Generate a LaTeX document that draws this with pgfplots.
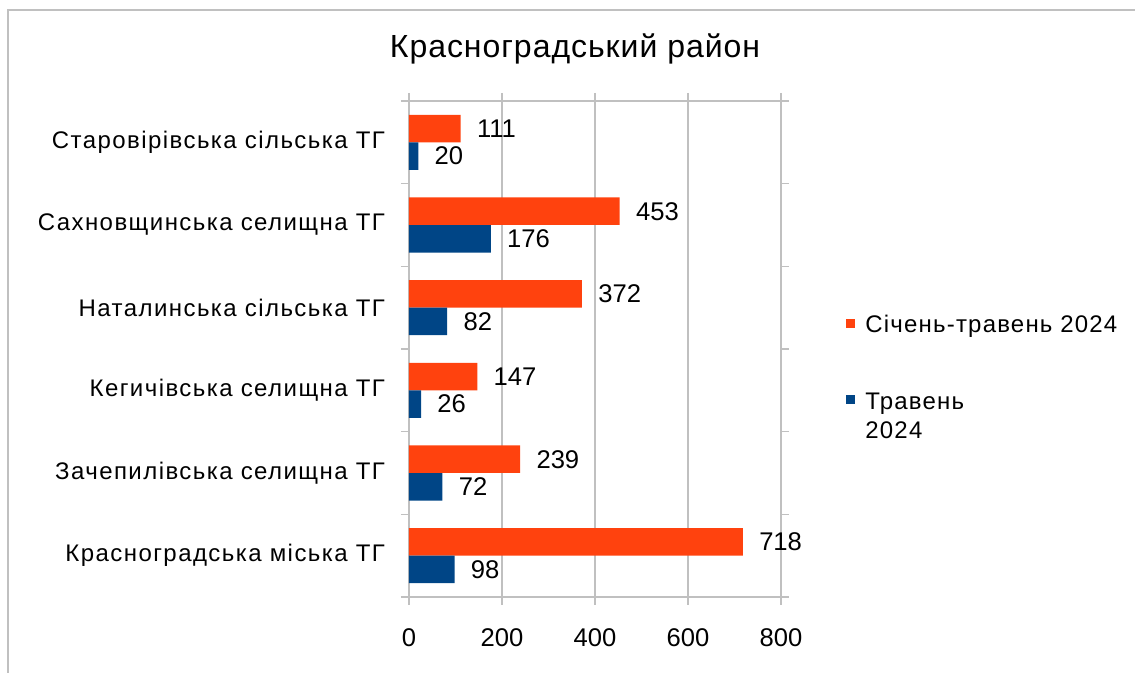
\documentclass[border=0pt]{standalone}
\usepackage{fontspec}
\setmainfont{Liberation Sans}
\newfontfamily\lblfont[LetterSpace=6]{Liberation Sans}
\newfontfamily\legfont[LetterSpace=5]{Liberation Sans}
\newfontfamily\ttlfont[LetterSpace=3]{Liberation Sans}
\usepackage{pgfplots}
\pgfplotsset{compat=1.18}
\definecolor{ora}{HTML}{FF420E}
\definecolor{blu}{HTML}{004586}
\definecolor{gridg}{HTML}{C0C0C0}
\begin{document}
\begin{tikzpicture}
\path[use as bounding box] (-204.5pt,-38pt) rectangle (363pt,298.5pt);
\draw[gridg, line width=0.8pt] (-200.5pt,-38pt) -- (-200.5pt,293.5pt) -- (363pt,293.5pt);
\begin{axis}[
  at={(0,0)}, anchor=south west,
  scale only axis, width=186pt, height=248pt,
  xbar, bar width=0.333,
  xmin=0, xmax=800, ymin=-0.5, ymax=5.5,
  xtick={0,200,...,800},
  ytick={0,...,5},
  yticklabels={Красноградська міська ТГ, Зачепилівська селищна ТГ, Кегичівська селищна ТГ, Наталинська сільська ТГ, Сахновщинська селищна ТГ, Старовірівська сільська ТГ},
  minor ytick={-0.5,0.5,...,5.5},
  tick align=outside, major tick length=4pt, minor tick length=4pt,
  major y tick style={draw=none},
  minor y tick style={gridg, line width=0.75pt},
  major x tick style={gridg, line width=0.75pt},
  xmajorgrids, grid style={gridg, line width=0.75pt},
  axis line style={gridg, line width=0.75pt},
  /pgf/number format/assume math mode=true,
  xticklabel style={font=\fontsize{12.8}{15}\selectfont, anchor=base, yshift=-21pt},
  yticklabel style={font=\lblfont\fontsize{12}{14}\selectfont, anchor=east, xshift=-4.5pt},
  nodes near coords,
  nodes near coords style={font=\fontsize{12.8}{15}\selectfont, anchor=west, inner sep=0pt, xshift=8pt, black},
]
\addplot[fill=ora, draw=none, bar shift=0.1667] coordinates {(718,0) (239,1) (147,2) (372,3) (453,4) (111,5)};
\addplot[fill=blu, draw=none, bar shift=-0.1667] coordinates {(98,0) (72,1) (26,2) (82,3) (176,4) (20,5)};
\end{axis}
\node[font=\ttlfont\fontsize{16}{19}\selectfont, anchor=base] at (83pt,269.5pt) {Красноградський район};
\fill[ora] (218.5pt,134.5pt) rectangle (223pt,139pt);
\node[font=\legfont\fontsize{12}{14}\selectfont, anchor=base west, inner sep=0pt] at (228pt,132pt) {Січень-травень 2024};
\fill[blu] (218.5pt,96.5pt) rectangle (223pt,101pt);
\node[font=\legfont\fontsize{12}{14}\selectfont, anchor=base west, inner sep=0pt] at (228pt,93.5pt) {Травень};
\node[font=\legfont\fontsize{12}{14}\selectfont, anchor=base west, inner sep=0pt] at (228pt,79pt) {2024};
\end{tikzpicture}
\end{document}
